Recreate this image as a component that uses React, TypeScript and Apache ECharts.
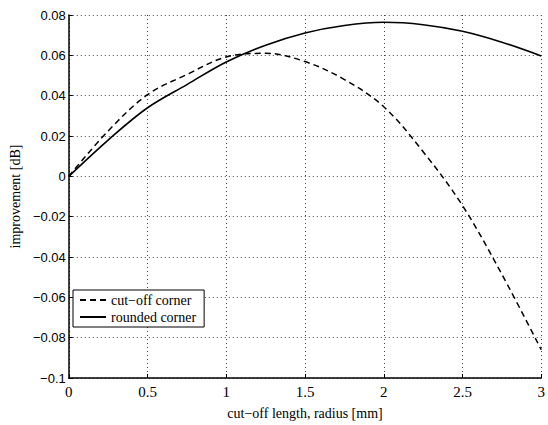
import React, { useEffect, useRef } from "react";
import * as echarts from "echarts";

const xValues = [0, 0.25, 0.5, 0.75, 1, 1.25, 1.5, 1.75, 2, 2.25, 2.5, 2.75, 3];
const cutOff = [0, 0.0225, 0.0405, 0.0505, 0.0592, 0.061, 0.0569, 0.048, 0.0345, 0.0122, -0.0145, -0.0486, -0.086];
const rounded = [0, 0.018, 0.034, 0.0455, 0.0567, 0.065, 0.0711, 0.0748, 0.0764, 0.0752, 0.0719, 0.0665, 0.0597];
const seriesNames = ["cut\u2212off corner", "rounded corner"];

const SERIF = "'Liberation Serif', 'DejaVu Serif', serif";
const SANS = "'Liberation Sans', Arial, sans-serif";

export default function App() {
  const ref = useRef<HTMLDivElement>(null);
  useEffect(() => {
    if (!ref.current) return;
    const chart = echarts.init(ref.current, null, { renderer: "svg" });
    const grid = { color: "#444", type: [1, 3] as number[], width: 1 };
    chart.setOption({
      animation: false,
      backgroundColor: "#fff",
      grid: { left: 62, right: 2, top: 15, bottom: 39 },
      legend: {
        orient: "vertical",
        left: 73,
        top: 290,
        backgroundColor: "#fff",
        borderColor: "#000",
        borderWidth: 1,
        borderRadius: 0,
        padding: [3, 8, 3, 6],
        itemGap: 3,
        itemWidth: 26,
        itemHeight: 10,
        itemStyle: { opacity: 0 },
        textStyle: { fontFamily: SERIF, fontSize: 14, color: "#000" },
        data: seriesNames,
      },
      xAxis: {
        type: "value",
        min: 0,
        max: 3,
        interval: 0.5,
        name: "cut\u2212off length, radius [mm]",
        nameLocation: "middle",
        nameGap: 28,
        nameTextStyle: { fontFamily: SERIF, fontSize: 14, color: "#000" },
        axisLine: { show: true, onZero: false, lineStyle: { color: "#000", width: 1.5 } },
        axisTick: { show: true, inside: true, length: 4, lineStyle: { color: "#000" } },
        axisLabel: { fontFamily: SERIF, fontSize: 15, color: "#000", margin: 6 },
        splitLine: { show: true, lineStyle: grid },
      },
      yAxis: {
        type: "value",
        min: -0.1,
        max: 0.08,
        interval: 0.02,
        name: "improvement [dB]",
        nameLocation: "middle",
        nameGap: 46,
        nameTextStyle: { fontFamily: SERIF, fontSize: 14, color: "#000" },
        axisLine: { show: true, onZero: false, lineStyle: { color: "#000", width: 1.5 } },
        axisTick: { show: true, inside: true, length: 4, lineStyle: { color: "#000" } },
        axisLabel: {
          fontFamily: SANS,
          fontSize: 13,
          color: "#000",
          margin: 3,
          formatter: (v: number) => {
            const r = Math.round(v * 100) / 100;
            if (r === 0) return "0";
            return String(r).replace("-", "\u2212");
          },
        },
        splitLine: { show: true, lineStyle: grid },
      },
      series: [
        {
          name: seriesNames[0],
          type: "line",
          smooth: 0.35,
          symbol: "none",
          data: xValues.map((x, i) => [x, cutOff[i]]),
          lineStyle: { color: "#000", width: 1.5, type: [6, 4] },
          itemStyle: { color: "#000" },
        },
        {
          name: seriesNames[1],
          type: "line",
          smooth: 0.35,
          symbol: "none",
          data: xValues.map((x, i) => [x, rounded[i]]),
          lineStyle: { color: "#000", width: 1.6, type: "solid" },
          itemStyle: { color: "#000" },
        },
      ],
    });
    return () => chart.dispose();
  }, []);
  return (
    <div
      ref={ref}
      style={{ position: "absolute", left: 0, top: 0, width: 548, height: 425 }}
    />
  );
}
